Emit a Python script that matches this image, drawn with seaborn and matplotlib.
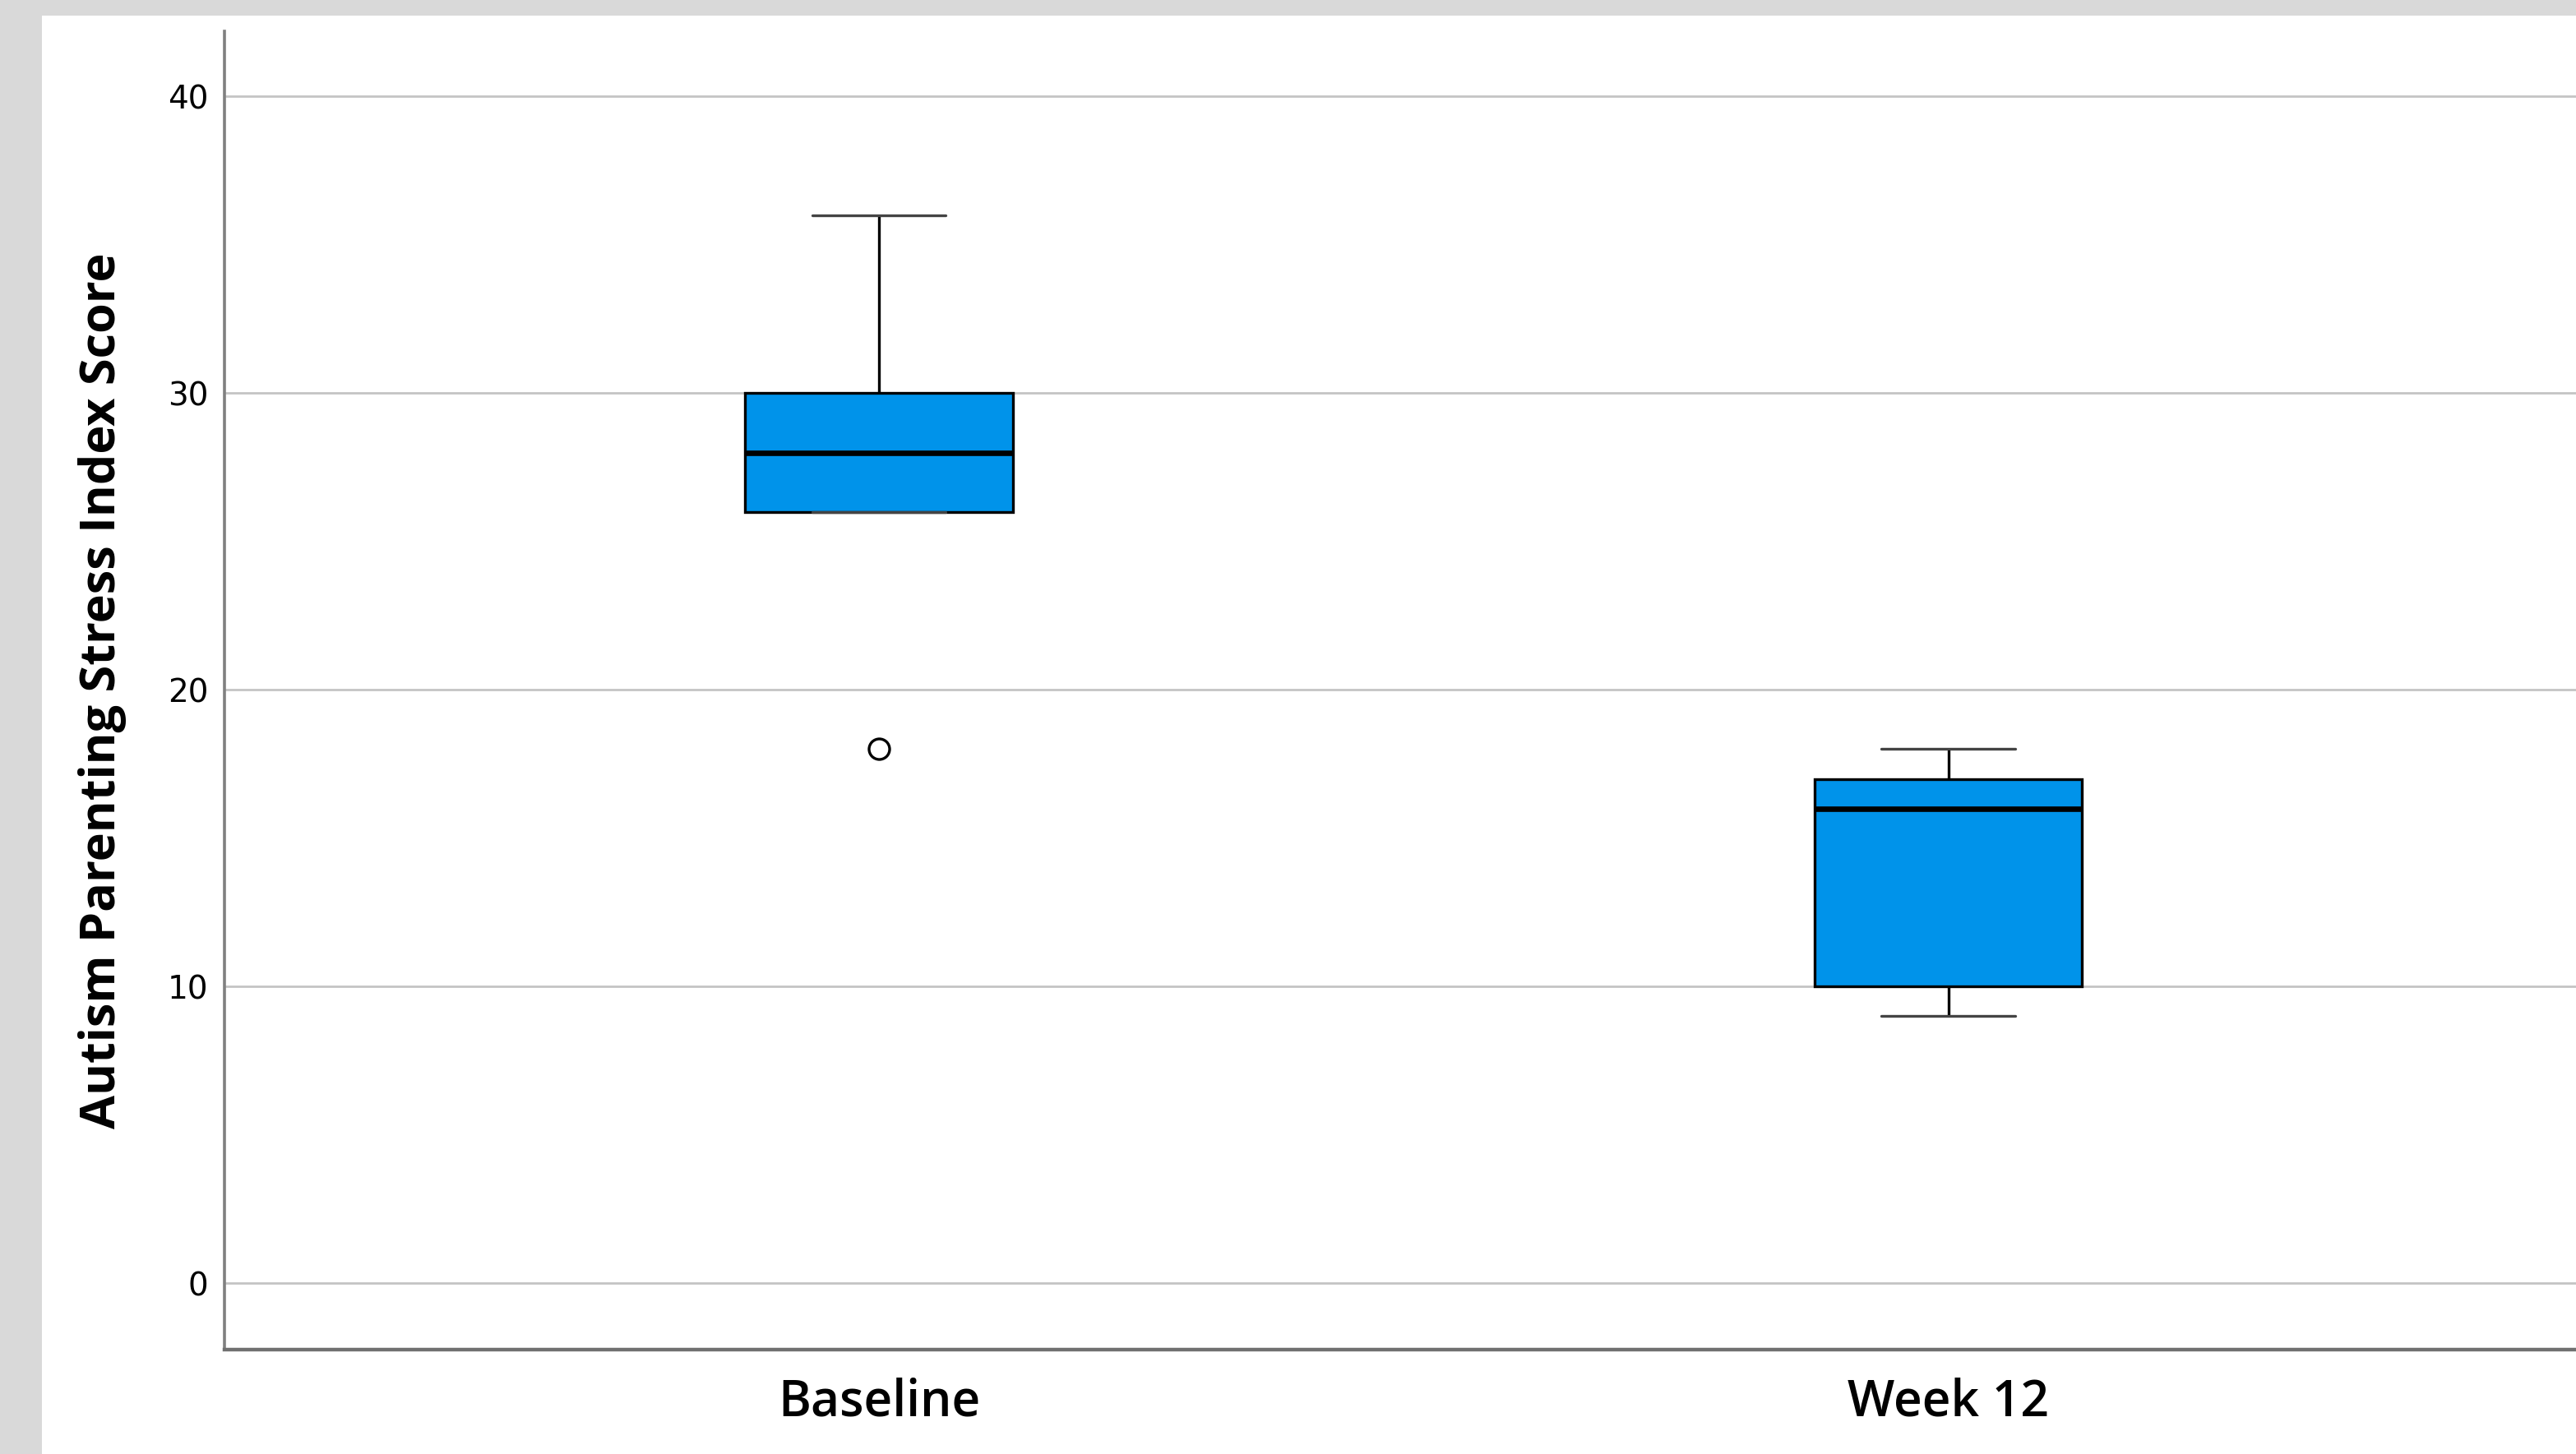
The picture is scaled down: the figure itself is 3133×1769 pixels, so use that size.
import matplotlib
matplotlib.use("Agg")
import matplotlib.pyplot as plt
from matplotlib.patches import Rectangle
import seaborn as sns
import pandas as pd

# scores (quartiles, whiskers and outlier)
baseline_scores = [18, 26, 26, 26, 28, 28, 30, 30, 36]
week12_scores = [9, 10, 10, 14, 16, 17, 17, 18, 18]
time_points = ["Baseline", "Week 12"]
y_ticks = [0, 10, 20, 30, 40]

df = pd.DataFrame({
    "time": [time_points[0]] * len(baseline_scores) + [time_points[1]] * len(week12_scores),
    "score": baseline_scores + week12_scores,
})

sns.set_style("white")
plt.rcParams['font.family'] = ['DejaVu Sans']

fig = plt.figure(figsize=(15.665, 8.845), dpi=200, facecolor="#d9d9d9")
# white panel inside the grey frame
fig.add_artist(Rectangle((51 / 3133, 0), 1, 1 - 19 / 1769, transform=fig.transFigure,
                         facecolor="white", edgecolor="none", zorder=-5))
ax = fig.add_axes([273 / 3133, 1 - 1642 / 1769, 1 - 273 / 3133, (1642 - 38) / 1769])
ax.set_facecolor("white")

sns.boxplot(data=df, x="time", y="score", order=time_points, ax=ax,
            color="#0093ea", saturation=1, width=0.25, linecolor="black", linewidth=1.2,
            whis=1.5,
            flierprops=dict(marker="o", markersize=9, markerfacecolor="white",
                            markeredgecolor="black", markeredgewidth=1.2),
            medianprops=dict(color="black", linewidth=2.4),
            capprops=dict(color="#444444", linewidth=1.2),
            whiskerprops=dict(color="black", linewidth=1.2),
            zorder=3)

ax.set_xlim(-0.612, 1.587)
ax.set_ylim(-2.24, 42.2)
ax.set_yticks(y_ticks)
ax.yaxis.grid(True, color="#c4c4c4", linewidth=1.0, zorder=0)
ax.set_axisbelow(True)

for s in ["top", "right"]:
    ax.spines[s].set_visible(False)
ax.spines["left"].set_color("#808080")
ax.spines["left"].set_linewidth(1.3)
ax.spines["bottom"].set_color("#707070")
ax.spines["bottom"].set_linewidth(1.6)

ax.tick_params(axis="y", length=0, pad=7, labelsize=14, labelcolor="black")
ax.tick_params(axis="x", length=0, pad=12, labelcolor="black")
for lab in ax.get_xticklabels():
    lab.set_fontfamily("Open Sans")
    lab.set_fontsize(21.8)
    lab.set_fontweight("semibold")
ax.set_xlabel("")
ax.set_ylabel("Autism Parenting Stress Index Score", fontsize=21.4, fontweight="bold",
              family="Open Sans", color="black", labelpad=18)

fig.savefig("out.png", dpi=200, facecolor=fig.get_facecolor())
